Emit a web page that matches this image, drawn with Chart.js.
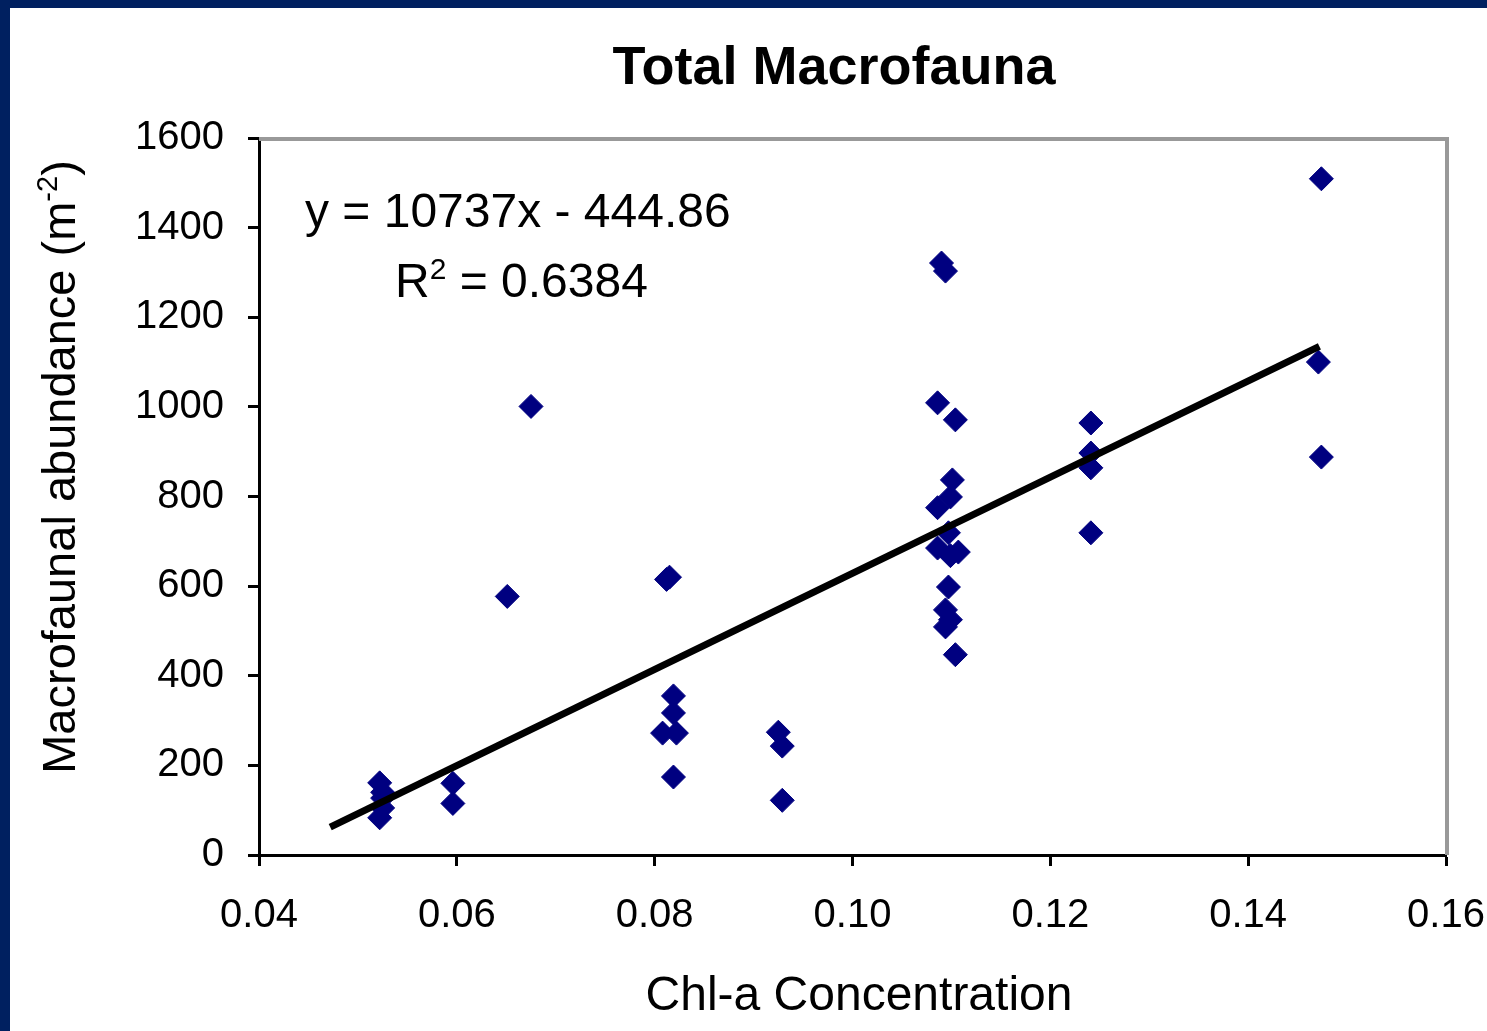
<!DOCTYPE html>
<html>
<head>
<meta charset="utf-8">
<script src="https://cdn.jsdelivr.net/npm/chart.js@4.4.1/dist/chart.umd.min.js"></script>
<style>
  html, body { margin: 0; padding: 0; background: #002060; }
  #wrap { position: absolute; left: 10px; top: 8px; width: 1477px; height: 1023px; background: #fff; }
</style>
</head>
<body>
<div id="wrap"><canvas id="macroChart" width="1477" height="1023"></canvas></div>
<script>
/* Total Macrofauna vs Chl-a */

const chlA = [0.0522, 0.0525, 0.0525, 0.0525, 0.0522, 0.0596, 0.0596, 0.0651, 0.0675,
  0.0812, 0.0815, 0.0819, 0.0819, 0.0808, 0.0822, 0.0819,
  0.0925, 0.0929, 0.0929,
  0.1090, 0.1094, 0.1086, 0.1104, 0.1101, 0.1099, 0.1086, 0.1097, 0.1086, 0.1099, 0.1107,
  0.1097, 0.1094, 0.1099, 0.1094, 0.1104,
  0.1241, 0.1241, 0.1241, 0.1241,
  0.1474, 0.1471, 0.1474];
const abundance = [161, 140, 127, 105, 83, 160, 115, 577, 1001,
  615, 620, 355, 317, 272, 272, 174,
  274, 243, 122,
  1321, 1303, 1009, 971, 837, 799, 775, 719, 685, 668, 676,
  598, 547, 525, 509, 447,
  964, 897, 864, 719,
  1509, 1100, 888];

// trend line end points
const trendX = [0.0472, 0.1472];
const trendY = [62, 1135];

const xTicks = [0.04, 0.06, 0.08, 0.10, 0.12, 0.14, 0.16];
const yTicks = [0, 200, 400, 600, 800, 1000, 1200, 1400, 1600];

const FONT = '"Liberation Sans", Arial, sans-serif';

function drawParts(ctx, parts, x, y, size, align) {
  let total = 0;
  parts.forEach(p => {
    ctx.font = (p.sup ? Math.round(size * 0.62) : size) + 'px ' + FONT;
    p.w = ctx.measureText(p.t).width;
    total += p.w;
  });
  let cx = align === 'center' ? x - total / 2 : x;
  parts.forEach(p => {
    ctx.font = (p.sup ? Math.round(size * 0.62) : size) + 'px ' + FONT;
    ctx.fillText(p.t, cx, p.sup ? y - size * 0.38 : y);
    cx += p.w;
  });
}

const textPlugin = {
  id: 'chartText',
  beforeDatasetsDraw(chart) {
    const ctx = chart.ctx, a = chart.chartArea;
    ctx.save();
    ctx.strokeStyle = '#999999';
    ctx.lineWidth = 4;
    ctx.beginPath();
    ctx.moveTo(a.left, a.top + 1);
    ctx.lineTo(a.right + 1, a.top + 1);
    ctx.lineTo(a.right + 1, a.bottom);
    ctx.stroke();
    ctx.restore();
  },
  afterDraw(chart) {
    const ctx = chart.ctx;
    ctx.save();
    ctx.fillStyle = '#000';
    ctx.textAlign = 'left';
    ctx.textBaseline = 'alphabetic';

    ctx.font = 'bold 54px ' + FONT;
    ctx.textAlign = 'center';
    ctx.fillText('Total Macrofauna', 824, 76);

    ctx.font = '48px ' + FONT;
    ctx.fillText('Chl-a Concentration', 849, 1002);

    ctx.textAlign = 'left';
    drawParts(ctx, [{ t: 'y = 10737x - 444.86' }], 295, 219, 48, 'left');
    drawParts(ctx, [{ t: 'R' }, { t: '2', sup: true }, { t: ' = 0.6384' }], 385, 289, 48, 'left');

    ctx.save();
    ctx.translate(65, 459);
    ctx.rotate(-Math.PI / 2);
    drawParts(ctx, [{ t: 'Macrofaunal abundance (m' }, { t: '-2', sup: true }, { t: ')' }], 0, 0, 47, 'center');
    ctx.restore();

    ctx.restore();
  }
};

new Chart(document.getElementById('macroChart'), {
  type: 'scatter',
  data: {
    datasets: [{
      type: 'line',
      data: trendX.map((x, i) => ({ x: x, y: trendY[i] })),
      borderColor: '#000',
      borderWidth: 7,
      pointRadius: 0,
      fill: false
    }, {
      data: chlA.map((x, i) => ({ x: x, y: abundance[i] })),
      pointStyle: 'rectRot',
      pointRadius: 12,
      backgroundColor: '#000080',
      borderColor: '#000080',
      borderWidth: 1
    }]
  },
  options: {
    responsive: false,
    animation: false,
    layout: { padding: { top: 130, right: 41, left: 0, bottom: 0 } },
    plugins: { legend: { display: false }, tooltip: { enabled: false } },
    scales: {
      x: {
        type: 'linear',
        min: 0.04,
        max: 0.16,
        afterBuildTicks: s => { s.ticks = xTicks.map(v => ({ value: v })); },
        afterFit: s => { s.height = 176; s.paddingLeft = 0; s.paddingRight = 0; },
        ticks: {
          color: '#000',
          font: { family: FONT, size: 40 },
          padding: 26,
          maxRotation: 0,
          callback: v => v.toFixed(2)
        },
        grid: { drawOnChartArea: false, color: '#000', tickLength: 11, tickWidth: 3 },
        border: { color: '#000', width: 3 }
      },
      y: {
        min: 0,
        max: 1600,
        afterBuildTicks: s => { s.ticks = yTicks.map(v => ({ value: v })); },
        afterFit: s => { s.width = 249; s.paddingTop = 0; s.paddingBottom = 0; },
        ticks: {
          color: '#000',
          font: { family: FONT, size: 40 },
          padding: 24,
          callback: v => String(v)
        },
        grid: { drawOnChartArea: false, color: '#000', tickLength: 11, tickWidth: 3 },
        border: { color: '#000', width: 3 }
      }
    }
  },
  plugins: [textPlugin]
});
</script>
</body>
</html>
